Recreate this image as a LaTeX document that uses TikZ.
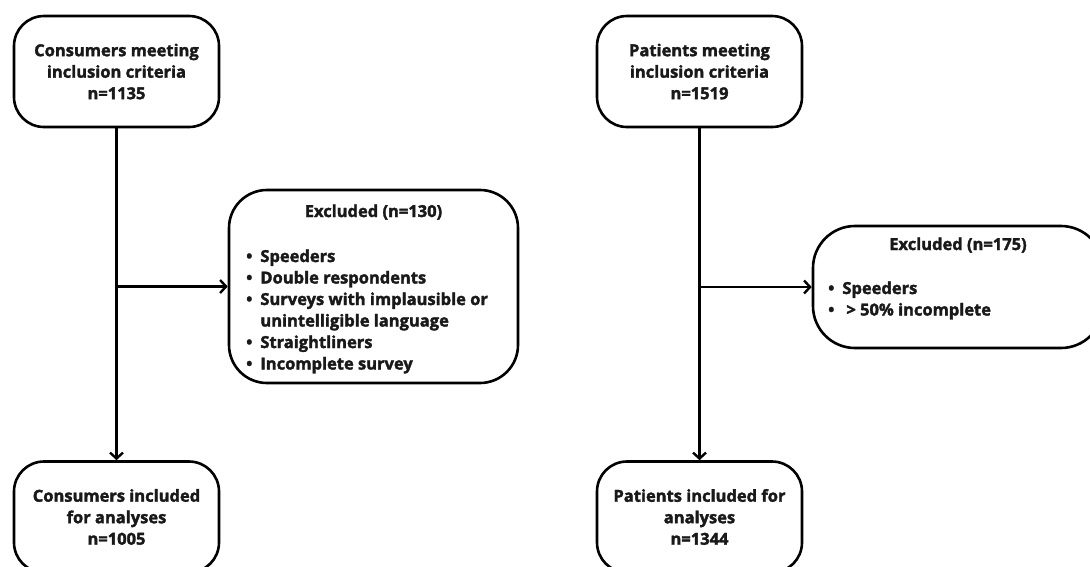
\documentclass[tikz,border=0pt]{standalone}
\usepackage{fontspec}
\setmainfont{Open Sans}[BoldFeatures={FakeBold=2}]
\usetikzlibrary{arrows.meta}
\begin{document}
\begin{tikzpicture}[x=1pt,y=-1pt,
  txt/.style={font=\fontsize{16.5}{21.5}\selectfont\bfseries, text=black!90, inner sep=0},
  box/.style={draw, line width=2.6pt, rounded corners=30pt, minimum width=205pt, minimum height=111pt, align=center, txt},
  exbox/.style={draw, line width=2.6pt, rounded corners=38pt},
  arr/.style={line width=2.6pt, -{Straight Barb[length=6pt,width=13pt,line width=2.4pt]}}
]
\useasboundingbox (0,0) rectangle (1090,566);
\fill[white] (0,0) rectangle (1090,566);
% left column
\node[box] (c1) at (116.5,71.5) {Consumers meeting\\inclusion criteria\\n=1135};
\node[box] (c3) at (116.5,517) {Consumers included\\for analyses\\n=1005};
\node[exbox, minimum width=289pt, minimum height=193pt] (e1) at (373.5,286.5) {};
\node[txt, anchor=base] (e1h) at (373.5,217) {Excluded (n=130)};
\node[txt, anchor=base west] (e1l) at (246,262) {\begin{tabular}[t]{@{}l@{\hspace{8pt}}l@{}}
\textbullet & Speeders\\
\textbullet & Double respondents\\
\textbullet & Surveys with implausible or\\
 & unintelligible language\\
\textbullet & Straightliners\\
\textbullet & Incomplete survey
\end{tabular}};
\draw[arr] (c1.south) -- (c3.north);
\draw[arr] (c1.south |- e1.west) -- (e1.west);
% right column
\node[box] (p1) at (699.5,71.5) {Patients meeting\\inclusion criteria\\n=1519};
\node[box] (p3) at (699.5,517) {Patients included for\\analyses\\n=1344};
\node[exbox, rounded corners=42pt, minimum width=290pt, minimum height=122pt] (e2) at (958,287) {};
\node[txt, anchor=base] (e2h) at (958,250) {Excluded (n=175)};
\node[txt, anchor=base west] (e2l) at (828,294) {\begin{tabular}[t]{@{}l@{\hspace{8pt}}l@{}}
\textbullet & Speeders\\
\textbullet & \hspace{4pt}> 50\% incomplete
\end{tabular}};
\draw[arr] (p1.south) -- (p3.north);
\draw[arr] (p1.south |- e2.west) -- (e2.west);
\end{tikzpicture}
\end{document}
